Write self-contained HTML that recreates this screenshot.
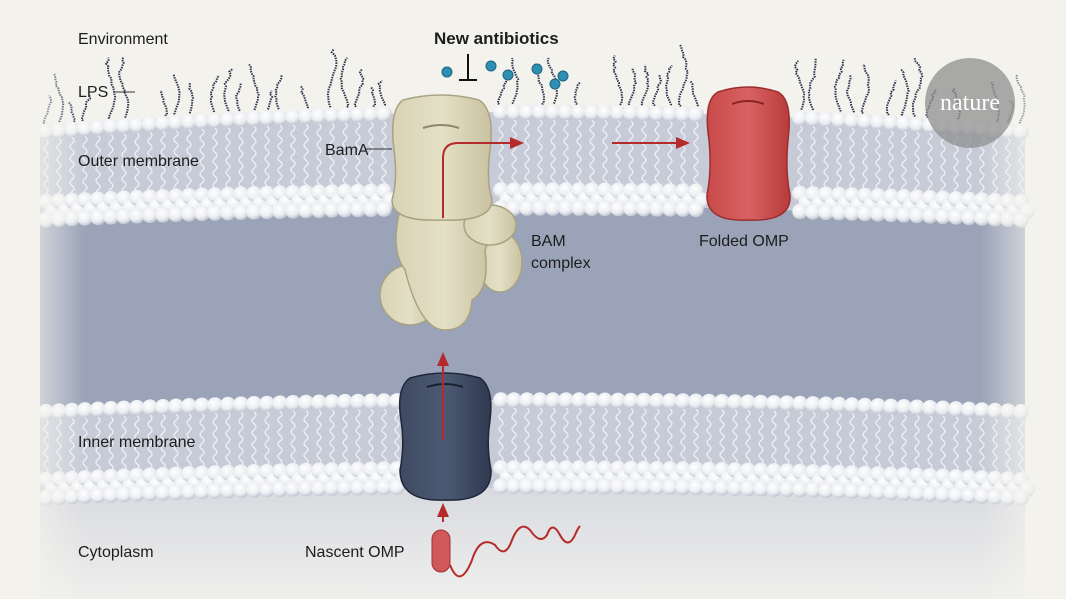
<!DOCTYPE html>
<html><head><meta charset="utf-8"><style>
html,body{margin:0;padding:0;background:#f3f2ec;}
svg{display:block}
text{font-family:"Liberation Sans",sans-serif;font-size:16px;fill:#1d1d1d}
</style></head><body>
<svg id="s" width="1066" height="599" viewBox="0 0 1066 599" xmlns="http://www.w3.org/2000/svg">
<defs>
<radialGradient id="hd" cx="0.4" cy="0.35" r="0.7"><stop offset="0" stop-color="#ffffff"/><stop offset="0.6" stop-color="#eceef2"/><stop offset="1" stop-color="#b9bfca"/></radialGradient>
<linearGradient id="cyto" x1="0" y1="0" x2="0" y2="1"><stop offset="0" stop-color="#d6d8de"/><stop offset="1" stop-color="#efefed"/></linearGradient>
<linearGradient id="lf" x1="0" x2="1"><stop offset="0" stop-color="#f3f2ec"/><stop offset="0.3" stop-color="#f3f2ec" stop-opacity="0.8"/><stop offset="1" stop-color="#f3f2ec" stop-opacity="0"/></linearGradient>
<linearGradient id="rf" x1="1" x2="0"><stop offset="0" stop-color="#f3f2ec"/><stop offset="0.3" stop-color="#f3f2ec" stop-opacity="0.8"/><stop offset="1" stop-color="#f3f2ec" stop-opacity="0"/></linearGradient>
<linearGradient id="beige" x1="0" x2="1"><stop offset="0" stop-color="#d8d3b4"/><stop offset="0.5" stop-color="#e4e0c6"/><stop offset="1" stop-color="#c8c2a0"/></linearGradient>
<linearGradient id="red" x1="0" x2="1"><stop offset="0" stop-color="#c94a4a"/><stop offset="0.5" stop-color="#d86262"/><stop offset="1" stop-color="#b93a3a"/></linearGradient>
<linearGradient id="navy" x1="0" x2="1"><stop offset="0" stop-color="#3f4a62"/><stop offset="0.5" stop-color="#4d5973"/><stop offset="1" stop-color="#2f3950"/></linearGradient>
</defs>
<rect width="1066" height="599" fill="#f3f2ec"/>
<path d="M40 215 Q530 185 1025 215 L1025 412 Q530 388 40 412 Z" fill="#9aa3b8"/>
<path d="M40 490 Q530 466 1025 490 L1025 599 L40 599 Z" fill="url(#cyto)"/>
<path d="M40 132 Q530 92 1025 132 L1025 222 Q530 190 40 222 Z" fill="#c6cbd7"/>
<path d="M40 412 Q530 388 1025 412 L1025 500 Q530 476 40 500 Z" fill="#c6cbd7"/>
<g id="mem"></g>
<rect x="0" y="0" width="85" height="599" fill="url(#lf)"/>
<rect x="981" y="0" width="85" height="599" fill="url(#rf)"/>

<g stroke="#a8a282" stroke-width="1.5" fill="url(#beige)">
<ellipse cx="410" cy="295" rx="30" ry="30"/>
<ellipse cx="500" cy="262" rx="22" ry="30"/>
<path d="M400 210 Q390 250 405 270 Q420 330 445 330 Q470 330 472 300 Q490 290 485 250 Q500 215 480 205 Z"/>
<ellipse cx="490" cy="225" rx="26" ry="20"/>
<path d="M403 100 Q441 90 479 100 Q495 110 490 150 Q486 180 492 200 Q492 222 441 220 Q392 222 392 200 Q398 180 394 150 Q389 110 403 100 Z"/>
</g>
<path d="M423 128 Q441 122 459 128" stroke="#8c866a" stroke-width="2" fill="none"/>
<path d="M718 92 Q748 82 778 92 Q793 100 788 140 Q785 170 790 195 Q792 222 748 220 Q706 222 707 195 Q712 170 709 140 Q703 100 718 92 Z" fill="url(#red)" stroke="#9a2e2e" stroke-width="1.5"/>
<path d="M732 104 Q748 98 764 104" stroke="#8a2424" stroke-width="2" fill="none"/>
<path d="M410 378 Q445 368 480 378 Q494 388 490 420 Q486 445 491 470 Q492 502 445 500 Q400 502 400 470 Q405 445 401 420 Q396 388 410 378 Z" fill="url(#navy)" stroke="#1f2638" stroke-width="1.5"/>
<path d="M427 387 Q445 381 463 387" stroke="#1a2030" stroke-width="2" fill="none"/>

<g stroke="#b52a2a" stroke-width="2" fill="none">
<path d="M443 218 L443 158 Q443 143 458 143 L512 143"/>
<path d="M612 143 L678 143"/>
<path d="M443 440 L443 362"/>
<path d="M443 522 L443 512"/>
<path d="M450 565 Q460 590 472 560 Q480 535 495 545 Q505 560 512 540 Q520 520 530 530 Q540 545 547 535 Q552 520 560 535 Q568 550 575 535 Q578 528 580 526"/>
</g>
<g fill="#b52a2a">
<path d="M524 143 L510 137 L510 149 Z"/>
<path d="M690 143 L676 137 L676 149 Z"/>
<path d="M443 352 L437 366 L449 366 Z"/>
<path d="M443 503 L437 517 L449 517 Z"/>
</g>
<rect x="432" y="530" width="18" height="42" rx="9" fill="#d05858" stroke="#a03434"/>

<g stroke="#111" stroke-width="2"><line x1="468" y1="54" x2="468" y2="80"/><line x1="459" y1="80" x2="477" y2="80"/></g>
<g fill="#2f8fb3" stroke="#1b6483" stroke-width="1">
<circle cx="447" cy="72" r="5"/><circle cx="491" cy="66" r="5"/><circle cx="508" cy="75" r="5"/><circle cx="537" cy="69" r="5"/><circle cx="555" cy="84" r="5"/><circle cx="563" cy="76" r="5"/>
</g>

<circle cx="970" cy="103" r="45" fill="#8f8f8f" opacity="0.75"/>
<text x="970" y="110" text-anchor="middle" style="font-family:'Liberation Serif',serif;font-size:24px;fill:#fff">nature</text>

<text x="78" y="44">Environment</text>
<text x="78" y="97">LPS</text>
<line x1="113" y1="92" x2="135" y2="92" stroke="#333"/>
<text x="78" y="166">Outer membrane</text>
<text x="325" y="155">BamA</text>
<line x1="366" y1="149" x2="392" y2="149" stroke="#333"/>
<text x="434" y="44" style="font-weight:bold;font-size:17px">New antibiotics</text>
<text x="531" y="246">BAM</text>
<text x="531" y="268">complex</text>
<text x="699" y="246">Folded OMP</text>
<text x="78" y="447">Inner membrane</text>
<text x="78" y="557">Cytoplasm</text>
<text x="305" y="557">Nascent OMP</text>
</svg>
<script>
var g=document.getElementById('mem'),ns='http://www.w3.org/2000/svg';
function q(x,a,c){var t=(x-40)/985;return a*(1-t)*(1-t)+2*c*t*(1-t)+a*t*t;}
function add(tag,at){var e=document.createElementNS(ns,tag);for(var k in at)e.setAttribute(k,at[k]);g.insertBefore(e,null);return e;}
var tl=[],hd=[],lp=[];
function tails(y0,y1,x){var d='M'+x+' '+y0.toFixed(1);var s=1;for(var y=y0;y<y1;y+=6){d+=' q'+(4*s)+' 3 0 6';s=-s;}tl.push({d:d});}
function skip(x,yc){return (x>385&&x<500&&yc<340)||(x>702&&x<792&&yc<230)||(x>398&&x<492&&yc>360);}
var seed=3;function rnd(){seed=(seed*9301+49297)%233280;return seed/233280;}
for(var x=46;x<1022;x+=13){
 var t1=q(x,132,92),b1=q(x,202,178),t2=q(x,412,388),b2=q(x,484,460);
 if(!skip(x,150)){
  tails(t1+8,b1-8,x);
  if(rnd()<0.75){var h=18+rnd()*45,yy=t1-6,xx=x,d='M'+x+' '+yy.toFixed(1);var ph=rnd()*6;for(var i=0;i<h;i+=3){xx=x+Math.sin(ph+i/10)*4+(i/h)*(rnd()-0.5)*4;yy-=3;d+=' L'+xx.toFixed(1)+' '+yy.toFixed(1);}lp.push({d:d});}
  hd.push([x,t1]);hd.push([x,b1]);hd.push([x+6.5,b1+9]);hd.push([x,b1+18]);
 }
 if(!skip(x,450)){
  tails(t2+8,b2-8,x);
  hd.push([x,t2]);hd.push([x,b2-4]);hd.push([x+6.5,b2+5]);hd.push([x,b2+14]);
 }
}
tl.forEach(function(o){add('path',{d:o.d,stroke:'#eef0f5','stroke-width':1.3,fill:'none'});});
lp.forEach(function(o){add('path',{d:o.d,stroke:'#2c3550','stroke-width':2,'stroke-dasharray':'1.5 1',fill:'none'});});
hd.forEach(function(p){add('circle',{cx:p[0],cy:p[1].toFixed(1),r:7.8,fill:'url(#hd)'});});
</script>
</body></html>
